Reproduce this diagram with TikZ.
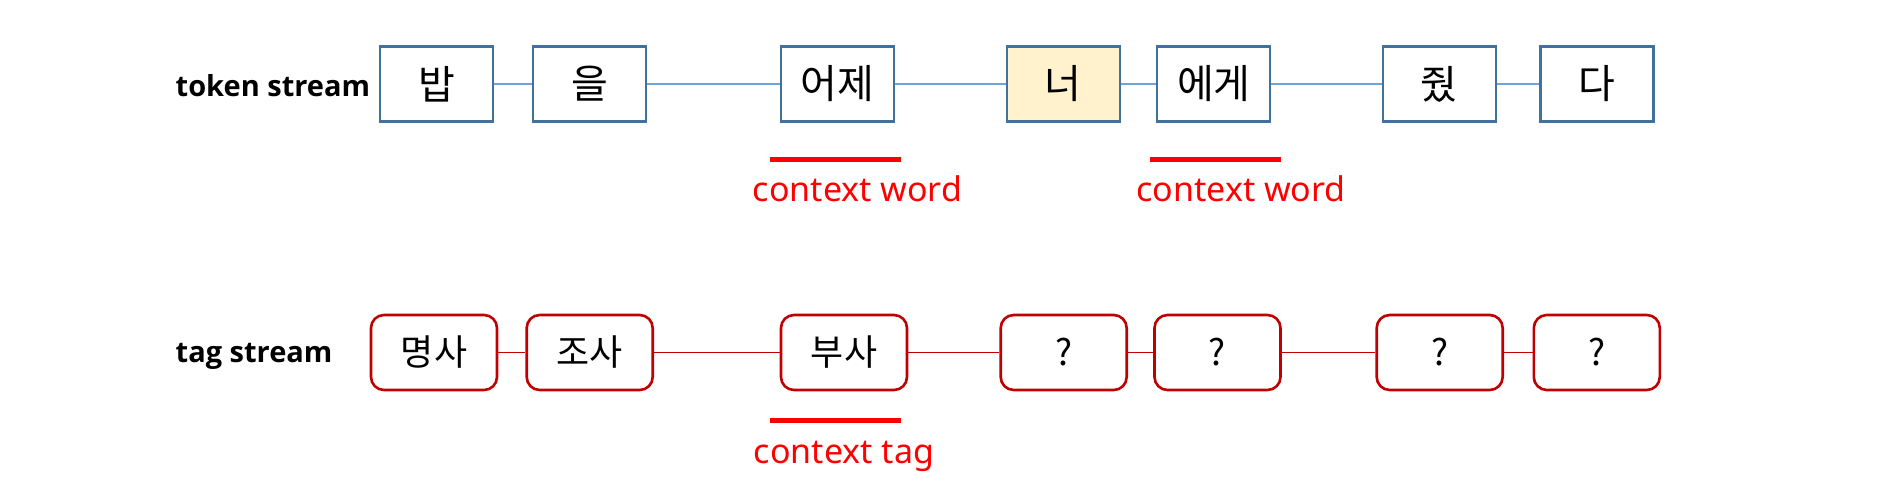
\documentclass[tikz,border=0pt]{standalone}
\usepackage{fontspec}
\setmainfont{Noto Sans}
\newfontfamily\kor{Noto Sans CJK KR}
\newfontfamily\lbl{Open Sans}
\definecolor{boxblue}{RGB}{65,113,156}
\definecolor{lineblue}{RGB}{110,165,215}
\definecolor{tagred}{RGB}{192,0,0}
\definecolor{hilite}{RGB}{255,242,204}
\definecolor{ctxred}{RGB}{255,0,0}
\begin{document}
\begin{tikzpicture}[x=1pt,y=-1pt,
  tokbox/.style={draw=boxblue,line width=2.2pt,fill=white,minimum width=113pt,minimum height=75pt,inner sep=0pt,font=\kor\fontsize{40}{40}\selectfont},
  tagbox/.style={draw=tagred,line width=2.6pt,fill=white,rounded corners=13pt,minimum width=126pt,minimum height=75pt,inner sep=0pt,font=\kor\fontsize{36}{36}\selectfont},
  toklink/.style={draw=lineblue,line width=1.6pt},
  taglink/.style={draw=tagred,line width=1.4pt},
  uline/.style={fill=ctxred,minimum width=131pt,minimum height=5pt,inner sep=0pt},
  ctxlabel/.style={text=ctxred,anchor=base,inner sep=0pt,font=\fontsize{34}{34}\selectfont},
  rowlabel/.style={anchor=base west,inner sep=0pt,font=\lbl\bfseries\fontsize{29}{29}\selectfont}]
\useasboundingbox (0,0) rectangle (1896,501);
% token stream
\node[rowlabel] (tl) at (175.5,96) {token stream};
\node[tokbox] (t1) at (436.5,84) {밥};
\node[tokbox] (t2) at (589.7,84) {을};
\node[tokbox] (t3) at (837.7,84) {어제};
\node[tokbox,fill=hilite] (t4) at (1063.3,84) {너};
\node[tokbox] (t5) at (1213.8,84) {에게};
\node[tokbox] (t6) at (1439.3,84) {줬};
\node[tokbox] (t7) at (1597,84) {다};
\draw[toklink] (t1) -- (t2);
\draw[toklink] (t2) -- (t3);
\draw[toklink] (t3) -- (t4);
\draw[toklink] (t4) -- (t5);
\draw[toklink] (t5) -- (t6);
\draw[toklink] (t6) -- (t7);
\node[uline] (u1) at (835.8,159.3) {};
\node[uline] (u2) at (1215,159.3) {};
\node[ctxlabel] (c1) at (857.5,201.7) {context word};
\node[ctxlabel] (c2) at (1241,201.7) {context word};
% tag stream
\node[rowlabel] (gl) at (175.5,362.7) {tag stream};
\node[tagbox] (g1) at (434,352.5) {명사};
\node[tagbox] (g2) at (589.7,352.5) {조사};
\node[tagbox] (g3) at (844,352.5) {부사};
\node[tagbox] (g4) at (1063.7,352.5) {?};
\node[tagbox] (g5) at (1217.5,352.5) {?};
\node[tagbox] (g6) at (1439.7,352.5) {?};
\node[tagbox] (g7) at (1596.8,352.5) {?};
\draw[taglink] (g1) -- (g2);
\draw[taglink] (g2) -- (g3);
\draw[taglink] (g3) -- (g4);
\draw[taglink] (g4) -- (g5);
\draw[taglink] (g5) -- (g6);
\draw[taglink] (g6) -- (g7);
\node[uline] (u3) at (835.8,420.7) {};
\node[ctxlabel] (c3) at (844,463.3) {context tag};
\end{tikzpicture}
\end{document}
